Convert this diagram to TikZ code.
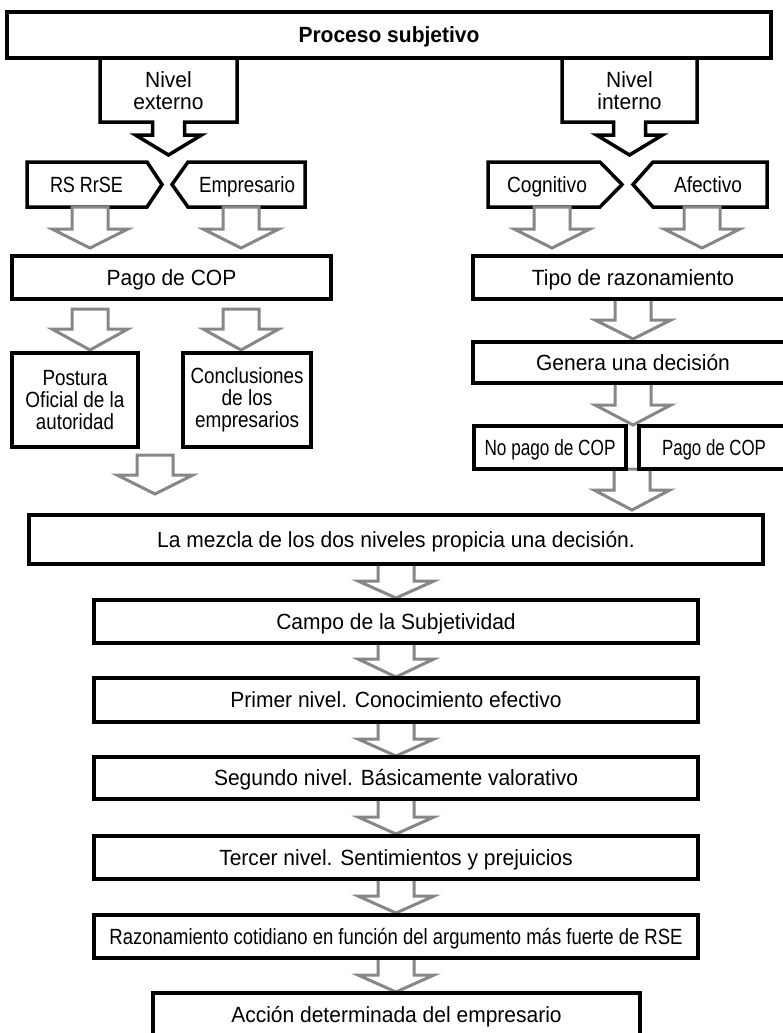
\documentclass[tikz,border=0pt]{standalone}
\usepackage{graphicx}
\usepackage{fontspec}
\setmainfont[FakeStretch=0.955]{Liberation Sans}
\newfontfamily\narrowfont[FakeStretch=0.86]{Liberation Sans}
\newcommand\fs{\fontsize{22}{22}\selectfont}
\newcommand\nfs{\narrowfont\fontsize{22}{22}\selectfont}
\newcommand\nw[2]{\resizebox{#1pt}{\height}{\nfs #2}}
\definecolor{arrowgray}{RGB}{135,135,135}
\newcommand\gArrow[4]{\draw[garrow] (#1-18,#2) -- (#1+18,#2) -- (#1+18,#3) -- (#1+38,#3) -- (#1,#4) -- (#1-38,#3) -- (#1-18,#3) -- cycle;}
\begin{document}
\begin{tikzpicture}[x=1pt,y=-1pt,
  box/.style={draw, line width=3.5pt, rectangle, inner sep=0pt, fill=white, font=\fs, align=center},
  onebox/.style={box, text height=15.7pt, text depth=0pt},
  lbl/.style={inner sep=0pt, font=\fs, align=center},
  nlbl/.style={inner sep=0pt, font=\nfs, align=center, text height=15.7pt, text depth=0pt},
  garrow/.style={draw=arrowgray, line width=3pt, fill=white, line join=miter},
  barrow/.style={draw=black, line width=3.5pt, fill=white, line join=miter},
  pent/.style={draw=black, line width=3.5pt, fill=white, line join=miter}]
\useasboundingbox (0,0) rectangle (783,1033);

% black block arrows (levels)
\draw[barrow] (100,58) -- (237,58) -- (237,122) -- (184.5,122) -- (184.5,135) -- (201.5,135)
  -- (168.5,155) -- (135.5,135) -- (152.5,135) -- (152.5,122) -- (100,122) -- cycle;
\draw[barrow] (562,58) -- (697,58) -- (697,122) -- (645.5,122) -- (645.5,135) -- (662.5,135)
  -- (629.5,155) -- (596.5,135) -- (613.5,135) -- (613.5,122) -- (562,122) -- cycle;
\node[lbl] (ext) at (168.5,91) {Nivel\\externo};
\node[lbl] (int) at (629.5,91) {Nivel\\interno};

% top box
\node[box, font=\fs\bfseries, minimum width=764pt, minimum height=46pt, text height=15.7pt, text depth=0pt] (top) at (389,35) {Proceso subjetivo};

% pentagons
\draw[pent] (27,162) -- (147,162) -- (162,184.5) -- (147,207) -- (27,207) -- cycle;
\draw[pent] (305,162) -- (188,162) -- (172,184.5) -- (188,207) -- (305,207) -- cycle;
\draw[pent] (488,162) -- (600,162) -- (622,184.5) -- (600,207) -- (488,207) -- cycle;
\draw[pent] (767,162) -- (653,162) -- (633,184.5) -- (653,207) -- (767,207) -- cycle;
\node[nlbl] (rs) at (86.5,184.5) {\nw{73}{RS RrSE}};
\node[nlbl] (emp) at (247,184.5) {\nw{96}{Empresario}};
\node[nlbl] (cog) at (547,184.5) {\nw{80}{Cognitivo}};
\node[nlbl] (afe) at (708,184.5) {\nw{68}{Afectivo}};

% gray arrows
\gArrow{90}{207}{229}{248}
\gArrow{241}{207}{229}{248}
\gArrow{552}{207}{229}{248}
\gArrow{702}{207}{229}{248}
\gArrow{90}{309}{329}{350}
\gArrow{241}{309}{329}{350}
\gArrow{633}{299}{320}{339}
\gArrow{633}{383}{405}{425}
\gArrow{632}{469}{490}{510}
\gArrow{155}{455}{475}{494}
\gArrow{396}{564}{581}{598}
\gArrow{396}{643}{659}{677}
\gArrow{396}{722}{739}{756}
\gArrow{396}{799}{817}{834}
\gArrow{396}{879}{896}{913}
\gArrow{396}{958}{975}{992}

% boxes
\node[onebox, minimum width=319pt, minimum height=43pt] (pago) at (171.5,277.5) {Pago de COP};
\node[onebox, minimum width=320pt, minimum height=43pt] (tipo) at (633,277.5) {Tipo de razonamiento};
\node[onebox, minimum width=320pt, minimum height=41pt] (gen) at (633,362.5) {Genera una decisi\'on};
\node[onebox, font=\nfs, minimum width=152pt, minimum height=43pt] (nopago) at (550,447.5) {\nw{131}{No pago de COP}};
\node[onebox, font=\nfs, minimum width=150pt, minimum height=43pt] (pago2) at (714,447.5) {\nw{104}{Pago de COP}};
\node[box, font=\nfs, minimum width=126pt, minimum height=94pt] (post) at (75,400) {\nw{65}{Postura}\\\nw{99}{Oficial de la}\\\nw{78}{autoridad}};
\node[box, font=\nfs, minimum width=128pt, minimum height=94pt] (concl) at (247,400) {\nw{113}{Conclusiones}\\\nw{51}{de los}\\\nw{104}{empresarios}};
\node[onebox, minimum width=734pt, minimum height=49pt] (mez) at (396,539.5) {La mezcla de los dos niveles propicia una decisi\'on.};
\node[onebox, minimum width=604pt, minimum height=43pt] (campo) at (396,621.5) {Campo de la Subjetividad};
\node[onebox, minimum width=604pt, minimum height=44pt] (prim) at (396,700) {Primer nivel. Conocimiento efectivo};
\node[onebox, minimum width=604pt, minimum height=42pt] (seg) at (396,778) {Segundo nivel. B\'asicamente valorativo};
\node[onebox, minimum width=604pt, minimum height=43pt] (ter) at (396,857.5) {Tercer nivel. Sentimientos y prejuicios};
\node[onebox, font=\nfs, minimum width=604pt, minimum height=43pt] (raz) at (396,936.5) {\nw{573}{Razonamiento cotidiano en funci\'on del argumento m\'as fuerte de RSE}};
\node[onebox, minimum width=487pt, minimum height=43pt] (acc) at (396.5,1014.5) {Acci\'on determinada del empresario};
\end{tikzpicture}
\end{document}
